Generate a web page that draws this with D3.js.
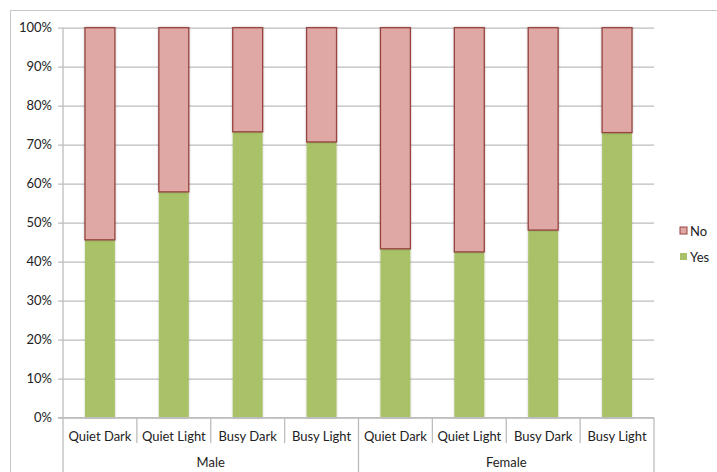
<!DOCTYPE html>
<html><head><meta charset="utf-8">
<script src="https://cdn.jsdelivr.net/npm/d3@7"></script>
<style>body{margin:0;background:#fff;}svg{display:block;font-family:Lato, "Open Sans", sans-serif;}</style>
</head><body>
<svg id="c" width="717" height="472"></svg>
<script>
const groups = ["Male", "Female"];
const categories = ["Quiet Dark", "Quiet Light", "Busy Dark", "Busy Light"];
const yesValues = [45.6, 57.9, 73.3, 70.7, 43.3, 42.5, 48.1, 73.1];
const noValues = yesValues.map(v => 100 - v);
const yTicks = [0, 10, 20, 30, 40, 50, 60, 70, 80, 90, 100];
const seriesNames = ["No", "Yes"];

const svg = d3.select("#c");
const W = 717, H = 472;
const mLeft = 63, mRight = 654, mTop = 27.7, mBottom = 417.6;

svg.append("rect").attr("x", 10.5).attr("y", 10.5).attr("width", 720).attr("height", 480)
  .attr("fill", "none").attr("stroke", "#c8c8c8").attr("stroke-width", 1);

const rows = [];
groups.forEach((g, gi) => categories.forEach((c, ci) => {
  const i = gi * categories.length + ci;
  rows.push({key: g + "|" + c, group: g, cat: c, Yes: yesValues[i], No: noValues[i]});
}));

const x = d3.scaleBand().domain(rows.map(r => r.key)).range([mLeft, mRight]).paddingInner(0.595).paddingOuter(0.2975);
const xb = d3.scaleBand().domain(rows.map(r => r.key)).range([mLeft, mRight]);
const y = d3.scaleLinear().domain([0, 100]).range([mBottom, mTop]);

// gridlines
const yAxis = d3.axisLeft(y).tickValues(yTicks).tickFormat(d => d + "%").tickSize(-(mRight - mLeft)).tickPadding(11);
const ga = svg.append("g").attr("transform", `translate(${mLeft},0)`).call(yAxis);
ga.select(".domain").remove();
ga.selectAll(".tick line").attr("stroke", "#bdbdbd").attr("stroke-width", 1.3).attr("x1", -5);
ga.selectAll(".tick text").attr("font-size", 13).attr("fill", "#222").attr("font-family", "Lato, sans-serif");

// bars
const stack = d3.stack().keys(["Yes", "No"])(rows);
const colors = {Yes: "#a9c267", No: "#dfa8a4"};
const strokes = {Yes: "none", No: "#96433f"};
const defs = svg.append("defs");
const f = defs.append("filter").attr("id", "sh").attr("x", "-20%").attr("y", "-5%").attr("width", "140%").attr("height", "110%");
f.append("feGaussianBlur").attr("in", "SourceAlpha").attr("stdDeviation", 1.2);
f.append("feOffset").attr("dx", 0).attr("dy", 0).attr("result", "b");
f.append("feComponentTransfer").append("feFuncA").attr("type", "linear").attr("slope", 0.25);
const fm = f.append("feMerge"); fm.append("feMergeNode"); fm.append("feMergeNode").attr("in", "SourceGraphic");

stack.forEach(s => {
  svg.append("g").selectAll("rect").data(s).join("rect")
    .attr("x", d => x(d.data.key))
    .attr("width", x.bandwidth())
    .attr("y", d => y(d[1]))
    .attr("height", d => y(d[0]) - y(d[1]))
    .attr("fill", colors[s.key])
    .attr("stroke", strokes[s.key])
    .attr("stroke-width", 1.3)
    .attr("filter", "url(#sh)");
});

// y axis line
svg.append("line").attr("x1", mLeft).attr("x2", mLeft).attr("y1", mTop).attr("y2", H)
  .attr("stroke", "#bdbdbd").attr("stroke-width", 1.3);
// x axis line
svg.append("line").attr("x1", mLeft - 5).attr("x2", mRight).attr("y1", mBottom).attr("y2", mBottom)
  .attr("stroke", "#bdbdbd").attr("stroke-width", 1.3);

// category separators
const xAxisG = svg.append("g");
rows.forEach((r, i) => {
  const xe = xb(r.key) + xb.bandwidth();
  const isGroupEnd = (i + 1) % categories.length === 0;
  xAxisG.append("line").attr("x1", xe).attr("x2", xe).attr("y1", mBottom)
    .attr("y2", isGroupEnd ? H : 443).attr("stroke", "#bdbdbd").attr("stroke-width", 1.3);
  xAxisG.append("text").attr("x", xb(r.key) + xb.bandwidth() / 2).attr("y", 441)
    .attr("text-anchor", "middle").attr("font-size", 13).attr("fill", "#222").text(r.cat);
});
groups.forEach((g, gi) => {
  const k0 = rows[gi * categories.length].key, k1 = rows[gi * categories.length + categories.length - 1].key;
  const cx = (xb(k0) + xb(k1) + xb.bandwidth()) / 2;
  xAxisG.append("text").attr("x", cx).attr("y", 467).attr("text-anchor", "middle")
    .attr("font-size", 13).attr("fill", "#222").text(g);
});

// legend
const lg = svg.append("g");
seriesNames.forEach((n, i) => {
  const ly = 227 + i * 26;
  lg.append("rect").attr("x", 680).attr("y", ly).attr("width", 7).attr("height", 7)
    .attr("fill", colors[n]).attr("stroke", strokes[n]).attr("stroke-width", 1);
  lg.append("text").attr("x", 690).attr("y", ly + 9).attr("font-size", 13).attr("fill", "#222").text(n);
});
</script>
</body></html>
